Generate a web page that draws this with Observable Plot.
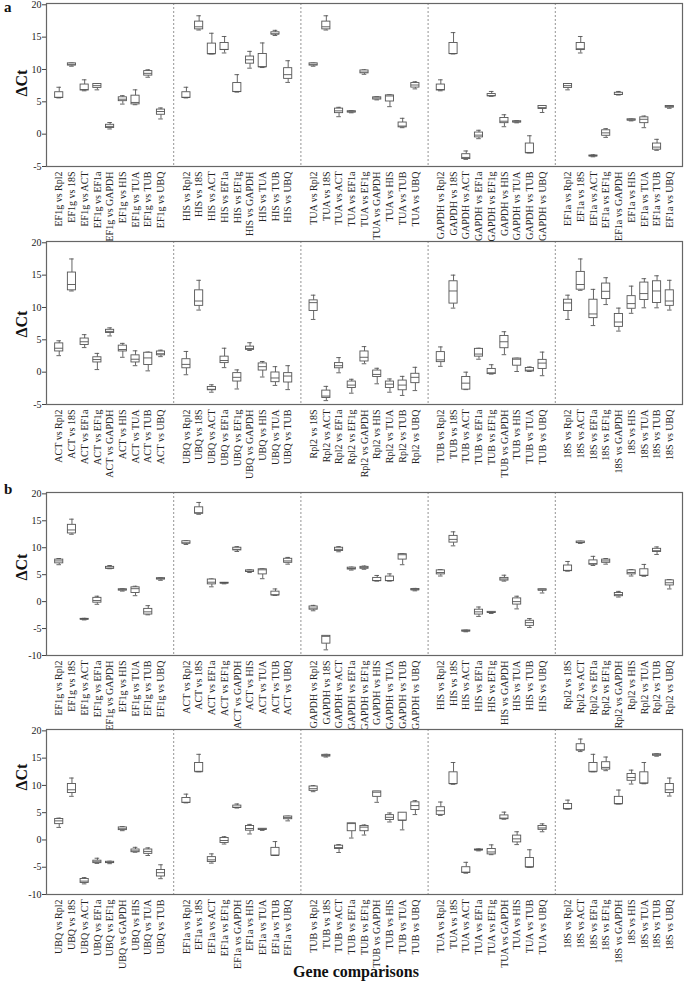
<!DOCTYPE html>
<html><head><meta charset="utf-8">
<script src="https://cdn.jsdelivr.net/npm/d3@7"></script>
<script src="https://cdn.jsdelivr.net/npm/@observablehq/plot@0.6"></script>
<style>
body{margin:0;background:#fff;}
#wrap{position:relative;width:685px;height:984px;font-family:"Liberation Serif","Times New Roman",serif;overflow:hidden;background:#fff;}
.row{position:absolute;left:0;}
.lab{position:absolute;font-weight:bold;color:#111;white-space:nowrap;}
.rot{transform:translate(-50%,-50%) rotate(-90deg);}
</style></head><body><div id="wrap"></div>
<script>
const genes = ["Rpl2","18S","ACT","EF1a","EF1g","GAPDH","HIS","TUA","TUB","UBQ"];

// facet reference genes per row
const rowA1 = ["EF1g","HIS","TUA","GAPDH","EF1a"];
const rowA2 = ["ACT","UBQ","Rpl2","TUB","18S"];
const rowB1 = ["EF1g","ACT","GAPDH","HIS","Rpl2"];
const rowB2 = ["UBQ","EF1a","TUB","TUA","18S"];

// box stats [min, q1, median, q3, max] per facet, comparisons in gene order
const valsA1 = [
 [[5.6,5.6,5.7,6.48,7.25],[10.5,10.6,10.8,10.95,11.0],[6.7,6.75,6.9,7.67,8.4],[6.85,7.15,7.5,7.75,7.8],[0.8,0.95,1.2,1.45,1.8],[4.65,5.1,5.4,5.7,5.95],[4.55,4.6,4.9,5.95,6.85],[8.8,9.05,9.4,9.75,9.95],[2.35,3.0,3.5,3.8,4.05]],
 [[5.6,5.6,5.7,6.48,7.25],[16.1,16.2,16.6,17.4,18.3],[12.4,12.4,12.4,14.0,15.6],[12.55,13.0,13.1,14.1,15.1],[6.5,6.5,6.6,7.9,9.2],[10.2,10.9,11.5,12.0,12.8],[10.3,10.35,10.4,12.4,14.1],[15.25,15.4,15.5,15.75,16.05],[8.0,8.55,9.2,10.2,11.35]],
 [[10.5,10.6,10.8,10.95,11.0],[16.1,16.2,16.6,17.4,18.3],[2.7,3.25,3.6,3.95,4.15],[3.3,3.35,3.45,3.55,3.65],[9.25,9.4,9.6,9.85,9.95],[5.3,5.35,5.6,5.7,5.8],[4.25,5.05,5.9,6.0,6.1],[1.0,1.05,1.25,1.8,2.45],[7.0,7.2,7.6,7.9,8.1]],
 [[6.7,6.75,6.9,7.67,8.4],[12.4,12.4,12.45,14.1,15.7],[-3.9,-3.85,-3.6,-3.1,-2.6],[-0.7,-0.5,-0.15,0.25,0.6],[5.85,5.85,5.95,6.2,6.6],[1.15,1.7,2.0,2.5,3.0],[1.75,1.8,1.9,2.0,2.1],[-2.9,-2.9,-2.9,-1.45,-0.25],[3.35,3.9,4.1,4.35,4.35]],
 [[6.85,7.15,7.5,7.75,7.8],[12.55,13.0,13.2,14.1,15.1],[-3.5,-3.45,-3.35,-3.3,-3.2],[-0.5,-0.25,0.2,0.6,0.85],[6.05,6.05,6.15,6.4,6.6],[2.05,2.1,2.2,2.3,2.35],[1.0,1.7,2.3,2.6,2.8],[-2.5,-2.4,-2.0,-1.45,-0.8],[4.0,4.1,4.25,4.35,4.4]]
];
const valsA2 = [
 [[2.55,3.2,3.7,4.45,4.85],[12.55,12.65,13.55,15.4,17.5],[3.8,4.2,4.7,5.2,5.8],[0.4,1.5,1.95,2.3,2.9],[5.6,6.05,6.3,6.55,6.85],[2.3,3.2,3.5,4.1,4.45],[1.0,1.5,2.0,2.6,3.3],[0.2,1.1,2.2,3.0,3.1],[2.4,2.6,2.85,3.2,3.4]],
 [[-0.4,0.6,1.2,2.0,3.2],[9.6,10.25,11.0,12.65,14.2],[-3.1,-2.8,-2.65,-2.3,-1.95],[0.7,1.4,1.8,2.4,3.7],[-2.6,-1.45,-0.8,-0.15,0.35],[3.35,3.45,3.65,3.95,4.55],[-0.75,0.25,0.85,1.35,1.65],[-2.05,-1.55,-0.9,-0.05,0.85],[-2.7,-1.6,-0.6,-0.15,1.0]],
 [[8.15,9.45,10.75,11.1,11.9],[-4.4,-4.0,-3.7,-2.85,-2.2],[-0.1,0.6,1.0,1.4,2.25],[-3.25,-2.45,-2.0,-1.45,-1.1],[1.3,1.65,2.3,3.2,3.95],[-1.8,-0.75,-0.35,0.25,0.6],[-3.1,-2.45,-1.85,-1.45,-1.05],[-3.6,-2.8,-2.0,-1.3,-0.65],[-2.85,-1.7,-0.8,-0.25,0.75]],
 [[0.9,1.55,1.9,3.1,3.9],[9.9,10.6,12.55,14.05,15.0],[-2.7,-2.7,-1.7,-0.75,0.0],[2.0,2.4,2.8,3.6,3.7],[-0.3,-0.3,-0.1,0.5,1.15],[2.7,3.7,4.7,5.6,6.25],[0.1,1.0,2.0,2.1,2.15],[0.1,0.1,0.3,0.65,0.8],[-0.55,0.5,1.4,1.9,3.1]],
 [[8.15,9.45,10.7,11.2,11.9],[12.65,12.75,13.55,15.5,17.5],[7.2,8.35,9.0,11.2,12.8],[10.45,11.3,12.5,13.7,14.6],[6.35,7.0,7.75,9.0,9.9],[9.1,9.8,10.6,11.75,13.3],[9.95,11.15,12.15,13.85,14.45],[9.95,10.7,12.55,14.05,14.9],[9.6,10.25,11.0,12.65,14.2]]
];
const valsB1 = [
 [[6.85,7.1,7.55,7.8,8.0],[12.5,12.65,13.3,14.25,15.3],[-3.4,-3.35,-3.25,-3.2,-3.1],[-0.5,-0.2,0.2,0.7,1.0],[6.1,6.1,6.2,6.45,6.7],[1.95,2.05,2.2,2.3,2.4],[1.1,1.6,2.4,2.65,2.85],[-2.45,-2.4,-1.9,-1.35,-0.75],[3.95,4.1,4.25,4.35,4.45]],
 [[10.6,10.75,10.9,11.2,11.3],[16.2,16.3,16.5,17.5,18.4],[2.75,3.2,3.6,4.1,4.2],[3.3,3.35,3.45,3.5,3.55],[9.3,9.5,9.7,10.0,10.2],[5.4,5.5,5.65,5.8,5.9],[4.25,5.05,5.9,6.0,6.1],[1.15,1.15,1.25,1.85,2.35],[6.95,7.2,7.55,7.95,8.2]],
 [[-1.7,-1.5,-1.2,-0.9,-0.7],[-8.95,-7.8,-6.45,-6.35,-6.35],[9.25,9.4,9.7,10.0,10.2],[5.85,5.95,6.15,6.3,6.4],[6.0,6.1,6.3,6.45,6.6],[3.8,3.8,3.9,4.4,4.85],[3.8,3.8,3.9,4.65,5.15],[6.85,7.8,8.7,8.8,8.9],[2.0,2.1,2.2,2.35,2.45]],
 [[4.75,5.05,5.4,5.8,5.95],[10.35,10.95,11.55,12.2,12.95],[-5.6,-5.55,-5.45,-5.35,-5.3],[-2.75,-2.4,-1.9,-1.5,-1.0],[-2.2,-2.1,-2.0,-1.9,-1.85],[3.8,3.9,4.2,4.4,4.9],[-1.35,-0.55,0.0,0.6,1.0],[-4.8,-4.5,-3.9,-3.55,-3.15],[1.6,2.05,2.15,2.3,2.3]],
 [[5.65,5.65,5.8,6.7,7.45],[10.8,10.85,11.0,11.15,11.2],[6.7,6.85,7.05,7.65,8.4],[6.95,7.2,7.55,7.8,8.0],[0.85,1.0,1.3,1.6,1.9],[4.75,5.05,5.4,5.8,5.95],[4.7,4.75,4.9,6.0,6.9],[8.75,9.2,9.45,9.8,10.15],[2.35,3.0,3.5,3.95,4.1]]
];
const valsB2 = [
 [[2.3,2.9,3.5,3.85,4.0],[8.0,8.6,9.2,10.25,11.35],[-8.05,-7.9,-7.55,-7.15,-6.9],[-4.3,-4.25,-4.0,-3.8,-3.35],[-4.35,-4.25,-4.1,-4.0,-3.9],[1.7,1.8,2.05,2.3,2.45],[-2.25,-2.25,-2.0,-1.75,-1.35],[-2.85,-2.55,-2.1,-1.75,-1.45],[-7.1,-6.7,-6.0,-5.5,-4.55]],
 [[6.8,6.8,6.9,7.7,8.4],[12.5,12.5,12.5,14.1,15.7],[-4.25,-4.05,-3.65,-3.15,-2.55],[-0.75,-0.55,-0.1,0.35,0.6],[5.85,5.85,6.0,6.3,6.6],[1.1,1.7,2.1,2.55,2.85],[1.75,1.85,1.95,2.05,2.1],[-2.85,-2.85,-2.85,-1.45,-0.3],[3.5,3.8,4.1,4.3,4.35]],
 [[8.85,9.0,9.4,9.8,9.95],[15.2,15.3,15.45,15.6,15.7],[-2.3,-1.65,-1.4,-1.05,-0.85],[0.35,1.6,3.0,3.05,3.05],[0.9,1.6,2.35,2.55,2.75],[6.9,7.9,8.75,8.9,8.9],[3.3,3.65,4.15,4.55,4.95],[1.85,3.55,3.6,5.0,5.0],[4.65,5.5,6.3,6.9,7.2]],
 [[4.5,4.6,5.35,6.0,6.95],[10.2,10.25,10.3,12.4,14.2],[-6.1,-6.05,-5.9,-5.0,-4.1],[-2.0,-1.9,-1.85,-1.75,-1.65],[-2.7,-2.65,-2.2,-1.65,-0.9],[3.8,3.8,4.0,4.5,5.1],[-0.85,-0.45,0.2,0.8,1.5],[-5.0,-5.0,-5.0,-3.3,-1.8],[1.5,1.85,2.2,2.55,2.95]],
 [[5.65,5.65,5.7,6.6,7.3],[16.2,16.4,16.5,17.55,18.5],[12.5,12.5,12.5,14.1,15.7],[12.7,12.9,13.3,14.25,15.2],[6.6,6.6,6.6,7.9,9.15],[10.25,10.85,11.45,12.1,12.8],[10.3,10.35,10.4,12.4,14.2],[15.35,15.45,15.6,15.7,15.8],[8.05,8.6,9.2,10.25,11.35]]
];

const ticksA = [-5,0,5,10,15,20];
const ticksB = [-10,-5,0,5,10,15,20];

const boxColor = "#555";
const boxHalf = 0.32, capHalf = 0.18;

function makeRow(facets, values, yDomain, yTicks, mt, ph, mb) {
  const data = [];
  facets.forEach((g, fi) => {
    genes.filter(o => o !== g).forEach((o, i) => {
      const [mn, q1, md, q3, mx] = values[fi][i];
      data.push({x: fi * 10 + i + 1, label: `${g} vs ${o}`, mn, q1, md, q3, mx});
    });
  });
  const labelMap = new Map(data.map(d => [d.x, d.label]));
  const sw = 0.9;
  return Plot.plot({
    width: 685, height: mt + ph + mb,
    marginTop: mt, marginBottom: mb, marginLeft: 46, marginRight: 3,
    style: {fontFamily: "'Liberation Serif', 'Times New Roman', serif", fontSize: "10px", color: "#222", background: "transparent", overflow: "visible"},
    x: {domain: [0, 50]},
    y: {domain: yDomain},
    marks: [
      Plot.ruleX([10, 20, 30, 40], {stroke: "#888", strokeDasharray: "2,2", strokeWidth: 0.9}),
      Plot.ruleX(data, {x: "x", y1: "mn", y2: "q1", stroke: boxColor, strokeWidth: sw}),
      Plot.ruleX(data, {x: "x", y1: "q3", y2: "mx", stroke: boxColor, strokeWidth: sw}),
      Plot.ruleY(data, {y: "mn", x1: d => d.x - capHalf, x2: d => d.x + capHalf, stroke: boxColor, strokeWidth: sw}),
      Plot.ruleY(data, {y: "mx", x1: d => d.x - capHalf, x2: d => d.x + capHalf, stroke: boxColor, strokeWidth: sw}),
      Plot.rect(data, {x1: d => d.x - boxHalf, x2: d => d.x + boxHalf, y1: "q1", y2: "q3", fill: "white", stroke: boxColor, strokeWidth: sw}),
      Plot.ruleY(data, {y: "md", x1: d => d.x - boxHalf, x2: d => d.x + boxHalf, stroke: boxColor, strokeWidth: sw}),
      Plot.frame({stroke: "#666", strokeWidth: 1.2}),
      Plot.axisY({ticks: yTicks, tickFormat: d => String(d), tickSize: 4, tickPadding: 1, label: null, stroke: "#444"}),
      Plot.axisX({ticks: data.map(d => d.x), tickFormat: v => labelMap.get(v), tickRotate: -90, tickSize: 0, tickPadding: 5, label: null})
    ]
  });
}

const wrap = document.getElementById("wrap");
function place(node, top) {
  node.classList.add("row");
  node.style.top = top + "px";
  wrap.appendChild(node);
}
place(makeRow(rowA1, valsA1, [-5, 20.2], ticksA, 3, 163, 70), 0);
place(makeRow(rowA2, valsA2, [-5, 20.2], ticksA, 5, 163, 71), 236);
place(makeRow(rowB1, valsB1, [-10, 20.25], ticksB, 17, 163, 65), 475);
place(makeRow(rowB2, valsB2, [-10, 20.25], ticksB, 9, 165, 66), 720);

function label(text, css, cls) {
  const d = document.createElement("div");
  d.className = "lab" + (cls ? " " + cls : "");
  d.textContent = text;
  Object.assign(d.style, css);
  wrap.appendChild(d);
}
label("a", {left: "4px", top: "0px", fontSize: "15px", lineHeight: "14px"});
label("b", {left: "4px", top: "482px", fontSize: "15px", lineHeight: "14px"});
[83, 324, 567, 777].forEach(y => label("ΔCt", {left: "22px", top: y + "px", fontSize: "16px"}, "rot"));
label("Gene comparisons", {left: "356px", top: "972px", fontSize: "16px", transform: "translate(-50%,-50%)"});
</script></body></html>
